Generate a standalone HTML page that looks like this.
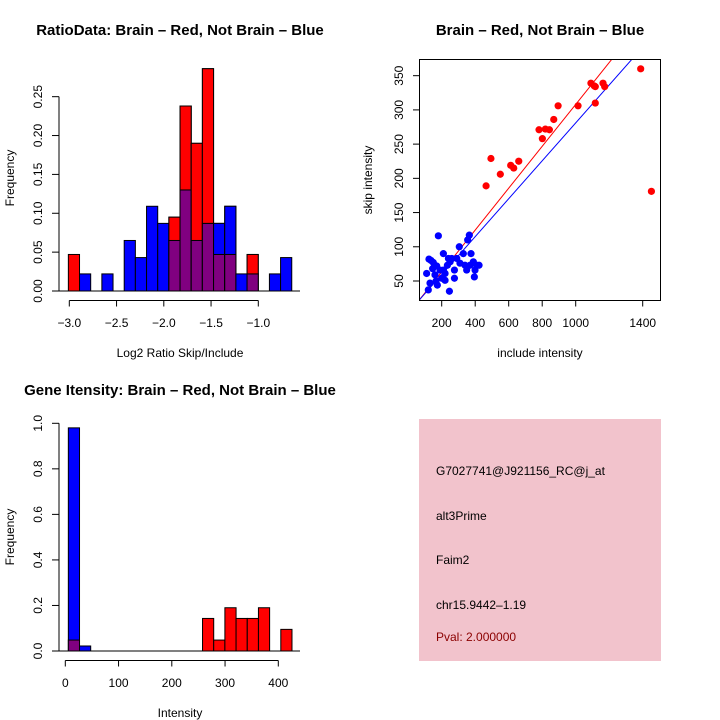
<!DOCTYPE html>
<html><head><meta charset="utf-8"><style>
body{margin:0;background:#fff}
svg{display:block;font-family:"Liberation Sans",sans-serif}
</style></head><body>
<svg id="c" width="720" height="720" viewBox="0 0 720 720"></svg>
<script>
// ---- Data: ratio histogram
const ratioBinStart = -3.01, ratioBinWidth = 0.1182;
const ratioRed  = [0.047,0,0,0,0,0,0,0,0,0.095,0.238,0.190,0.286,0.047,0.047,0,0.047,0,0,0];
const ratioBlue = [0,0.022,0,0.022,0,0.065,0.043,0.109,0.087,0.065,0.130,0.065,0.087,0.087,0.109,0.022,0.022,0,0.022,0.043];
const ratioXTicks = [-3.0,-2.5,-2.0,-1.5,-1.0];
const ratioXLabels = ["\u22123.0","\u22122.5","\u22122.0","\u22121.5","\u22121.0"];
const ratioYTicks = [0,0.05,0.10,0.15,0.20,0.25];
const ratioYLabels = ["0.00","0.05","0.10","0.15","0.20","0.25"];
// ---- Data: scatter
const redInclude = [465,494,550,612,630,660,781,801,819,843,869,895,1014,1091,1111,1117,1117,1163,1173,1388,1452];
const redSkip    = [189,229,206,219,215,225,271,258,272,271,286,306,306,339,335,310,334,339,334,360,181];
const blueInclude= [180,305,355,365,329,124,136,150,146,170,190,110,160,210,240,250,234,220,276,276,309,339,349,395,399,369,375,389,210,260,290,246,174,200,166,130,120,220,409,423];
const blueSkip   = [116,100,110,117,90,82,80,77,68,72,66,61,59,66,83,78,73,61,66,54,76,73,66,56,66,73,90,78,90,83,83,35,44,54,50,47,37,51,73,73];
const fitSlope = [0.306,0.277];
const fitIntercept = [2,4];
const scXTicks = [200,400,600,800,1000,1400];
const scYTicks = [50,100,150,200,250,300,350];
// ---- Data: intensity histogram
const intBinStart = 5.7, intBinWidth = 21;
const intRed  = [0.048,0,0,0,0,0,0,0,0,0,0,0,0.143,0.048,0.190,0.143,0.143,0.190,0,0.095];
const intBlue = [0.98,0.022,0,0,0,0,0,0,0,0,0,0,0,0,0,0,0,0,0,0];
const intXTicks = [0,100,200,300,400];
const intYTicks = [0,0.2,0.4,0.6,0.8,1.0];
const intYLabels = ["0.0","0.2","0.4","0.6","0.8","1.0"];

const svg = document.getElementById('c');
const NS = 'http://www.w3.org/2000/svg';
function mk(tag, attrs, parent){const e=document.createElementNS(NS,tag);for(const k in attrs)e.setAttribute(k,attrs[k]);(parent||svg).appendChild(e);return e;}
function txt(x,y,s,opt,parent){const t=mk('text',Object.assign({x:x,y:y,'font-size':12,'text-anchor':'middle',fill:'#000'},opt||{}),parent);t.textContent=s;return t;}

// ===== Plot 1: ratio histogram
(function(){
  const g=mk('g',{});
  
  
  const X=v=>69.3+(v+3)*94.5, Y=v=>291-v*777.3;
  const t=txt(180,35,'RatioData: Brain \u2013 Red, Not Brain \u2013 Blue',{'font-size':15,'font-weight':'bold'},g);
  
  
  for(let i=0;i<ratioRed.length;i++){
    const x0=X(ratioBinStart+i*ratioBinWidth), x1=X(ratioBinStart+(i+1)*ratioBinWidth);
    const r=ratioRed[i], b=ratioBlue[i];
    if(r>0){const e=mk('rect',{x:x0,y:Y(r),width:x1-x0,height:Y(0)-Y(r),fill:'#ff0000',stroke:'#000','stroke-width':1},g);
      
      }
    if(b>0){const e=mk('rect',{x:x0,y:Y(b),width:x1-x0,height:Y(0)-Y(b),fill:'#0000ff',stroke:'#000','stroke-width':1},g);
      
      }
    const m=Math.min(r,b);
    if(m>0){
      const top=Math.max(r,b);
      const e=mk('rect',{x:x0,y:Y(m),width:x1-x0,height:Y(0)-Y(m),fill:'#800080',stroke:'#000','stroke-width':1},g);
      
      
      const c=r>b?'#ff0000':'#0000ff';
      const e2=mk('rect',{x:x0,y:Y(top),width:x1-x0,height:Y(m)-Y(top),fill:c,stroke:'#000','stroke-width':1},g);
      
      
    }
  }
  mk('line',{x1:59,x2:300,y1:291,y2:291,stroke:'#000'},g);
  mk('line',{x1:X(-3),x2:X(-1),y1:300.5,y2:300.5,stroke:'#000'},g);
  ratioXTicks.forEach((v,i)=>{mk('line',{x1:X(v),x2:X(v),y1:300.5,y2:306.5,stroke:'#000'},g);txt(X(v),327,ratioXLabels[i],{},g);});
  mk('line',{x1:59,x2:59,y1:Y(0),y2:Y(0.25),stroke:'#000'},g);
  ratioYTicks.forEach((v,i)=>{mk('line',{x1:52,x2:59,y1:Y(v),y2:Y(v),stroke:'#000'},g);txt(42,Y(v),ratioYLabels[i],{transform:`rotate(-90 42 ${Y(v)})`},g);});
  const xl=txt(180,357,'Log2 Ratio Skip/Include',{},g);
  
  
  const yl=txt(14,178,'Frequency',{transform:'rotate(-90 14 178)'},g);
  
  
})();

// ===== Plot 2: scatter
(function(){
  const g=mk('g',{});
  
  
  const X=v=>408.2+v*0.1675, Y=v=>281-(v-50)*0.6844;
  const t=txt(540,35,'Brain \u2013 Red, Not Brain \u2013 Blue',{'font-size':15,'font-weight':'bold'},g);
  
  
  const cpath=mk('clipPath',{id:'cp'},g);
  mk('rect',{x:419.5,y:59,width:241,height:241},cpath);
  const lc=['#ff0000','#0000ff'];
  fitSlope.forEach((s,i)=>{const l=mk('line',{x1:X(0),y1:Y(fitIntercept[i]),x2:X(1600),y2:Y(fitIntercept[i]+s*1600),stroke:lc[i],'stroke-width':1,'clip-path':'url(#cp)'},g);
    
    });
  redInclude.forEach((v,i)=>{const c=mk('circle',{cx:X(v),cy:Y(redSkip[i]),r:3.6,fill:'#ff0000'},g);
    
    });
  blueInclude.forEach((v,i)=>{const c=mk('circle',{cx:X(v),cy:Y(blueSkip[i]),r:3.6,fill:'#0000ff'},g);
    
    });
  mk('rect',{x:419.5,y:59.5,width:241,height:241,fill:'none',stroke:'#000'},g);
  scXTicks.forEach(v=>{mk('line',{x1:X(v),x2:X(v),y1:300.5,y2:306.5,stroke:'#000'},g);txt(X(v),327,String(v),{},g);});
  scYTicks.forEach(v=>{mk('line',{x1:413,x2:419.5,y1:Y(v),y2:Y(v),stroke:'#000'},g);txt(403,Y(v),String(v),{transform:`rotate(-90 403 ${Y(v)})`},g);});
  const xl=txt(540,357,'include intensity',{},g);
  
  
  const yl=txt(372,180,'skip intensity',{transform:'rotate(-90 372 180)'},g);
  
  
})();

// ===== Plot 3: intensity histogram
(function(){
  const g=mk('g',{});
  
  
  const X=v=>65.3+v*0.5325, Y=v=>651-v*227.7;
  const t=txt(180,395,'Gene Itensity: Brain \u2013 Red, Not Brain \u2013 Blue',{'font-size':15,'font-weight':'bold'},g);
  
  
  for(let i=0;i<intRed.length;i++){
    const x0=X(intBinStart+i*intBinWidth), x1=X(intBinStart+(i+1)*intBinWidth);
    const r=intRed[i], b=intBlue[i], m=Math.min(r,b), top=Math.max(r,b);
    if(top>0){const e=mk('rect',{x:x0,y:Y(top),width:x1-x0,height:Y(0)-Y(top),fill:r>b?'#ff0000':'#0000ff',stroke:'#000'},g);
      
      }
    if(m>0){const e=mk('rect',{x:x0,y:Y(m),width:x1-x0,height:Y(0)-Y(m),fill:'#800080',stroke:'#000'},g);
      
      }
  }
  mk('line',{x1:59,x2:300,y1:651,y2:651,stroke:'#000'},g);
  mk('line',{x1:X(0),x2:X(400),y1:660.5,y2:660.5,stroke:'#000'},g);
  intXTicks.forEach(v=>{mk('line',{x1:X(v),x2:X(v),y1:660.5,y2:666.5,stroke:'#000'},g);txt(X(v),687,String(v),{},g);});
  mk('line',{x1:59,x2:59,y1:Y(0),y2:Y(1),stroke:'#000'},g);
  intYTicks.forEach((v,i)=>{mk('line',{x1:52,x2:59,y1:Y(v),y2:Y(v),stroke:'#000'},g);txt(42,Y(v),intYLabels[i],{transform:`rotate(-90 42 ${Y(v)})`},g);});
  const xl=txt(180,717,'Intensity',{},g);
  
  
  const yl=txt(14,537,'Frequency',{transform:'rotate(-90 14 537)'},g);
  
  
})();
</script>
<div style="position:absolute;left:419px;top:419px;width:242px;height:242px;background:#f2c3cc;font-family:'Liberation Sans',sans-serif;font-size:12px;">
  <div style="position:absolute;left:17px;top:45px;color:#000">G7027741@J921156_RC@j_at</div>
  <div style="position:absolute;left:17px;top:90px;color:#000">alt3Prime</div>
  <div style="position:absolute;left:17px;top:134px;color:#000">Faim2</div>
  <div style="position:absolute;left:17px;top:179px;color:#000">chr15.9442&#8211;1.19</div>
  <div style="position:absolute;left:17px;top:211px;color:#8b0000">Pval: 2.000000</div>
</div>
</body></html>
